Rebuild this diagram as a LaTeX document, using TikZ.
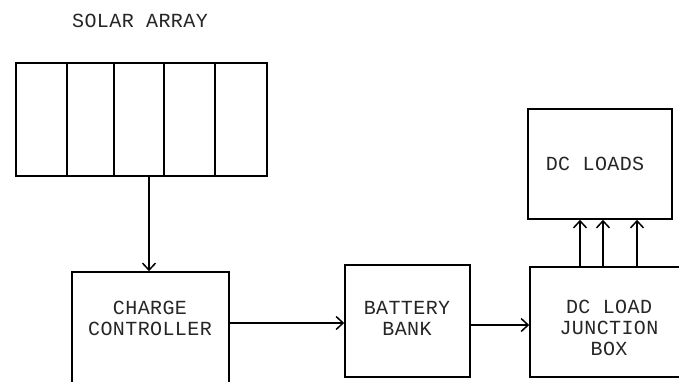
\documentclass[tikz,border=0pt]{standalone}
\usepackage{fontspec}
\setmonofont[LetterSpace=2]{Liberation Mono}
\usetikzlibrary{arrows.meta,calc}
\tikzset{
  blk/.style={draw=black, line width=1.6pt, rectangle, inner sep=0pt},
  lbl/.style={font=\ttfamily\fontsize{20}{22}\selectfont, text=black!85, align=center, inner sep=0pt},
  arr/.style={line width=1.6pt, -{Straight Barb[length=7pt,width=13pt,line width=1.5pt]}},
}
\begin{document}
\begin{tikzpicture}[x=1pt,y=-1pt]
\clip (0,0) rectangle (679,382);
\fill[white] (0,0) rectangle (679,382);
% solar array
\node[lbl] (solart) at (140,21) {SOLAR ARRAY};
\node[blk, minimum width=251pt, minimum height=113pt] (solar) at (141.5,119.5) {};
\foreach \xx in {67,114,164,215}
  \draw[line width=1.6pt] (solar.north -| \xx,0) -- (solar.south -| \xx,0);
% charge controller (bottom cut off)
\node[blk, minimum width=157pt, minimum height=140pt] (cc) at (150.5,342) {};
\node[lbl] (cct) at (150,318) {CHARGE\\[-1pt]CONTROLLER};
% battery bank
\node[blk, minimum width=125pt, minimum height=112pt] (bb) at (407.5,321) {};
\node[lbl] (bbt) at (407,318) {BATTERY\\[-1pt]BANK};
% junction box (right side cut off)
\node[blk, minimum width=180pt, minimum height=110pt] (jb) at (620,322) {};
\node[lbl] (jbt) at (609,328) {DC LOAD\\[-1pt]JUNCTION\\[-1pt]BOX};
% dc loads
\node[blk, minimum width=144pt, minimum height=110pt] (dl) at (600,164) {};
\node[lbl] (dlt) at (595,164) {DC LOADS};
% connectors
\draw[arr] ([xshift=7.5pt]solar.south) -- ([xshift=-1.5pt]cc.north);
\draw[arr] (cc.east |- 0,323) -- (bb.west |- 0,323);
\draw[arr] (bb.east |- 0,325) -- (jb.west |- 0,325);
\foreach \xx in {580,603,637}
  \draw[arr] (jb.north -| \xx,0) -- (dl.south -| \xx,0);
\end{tikzpicture}
\end{document}
